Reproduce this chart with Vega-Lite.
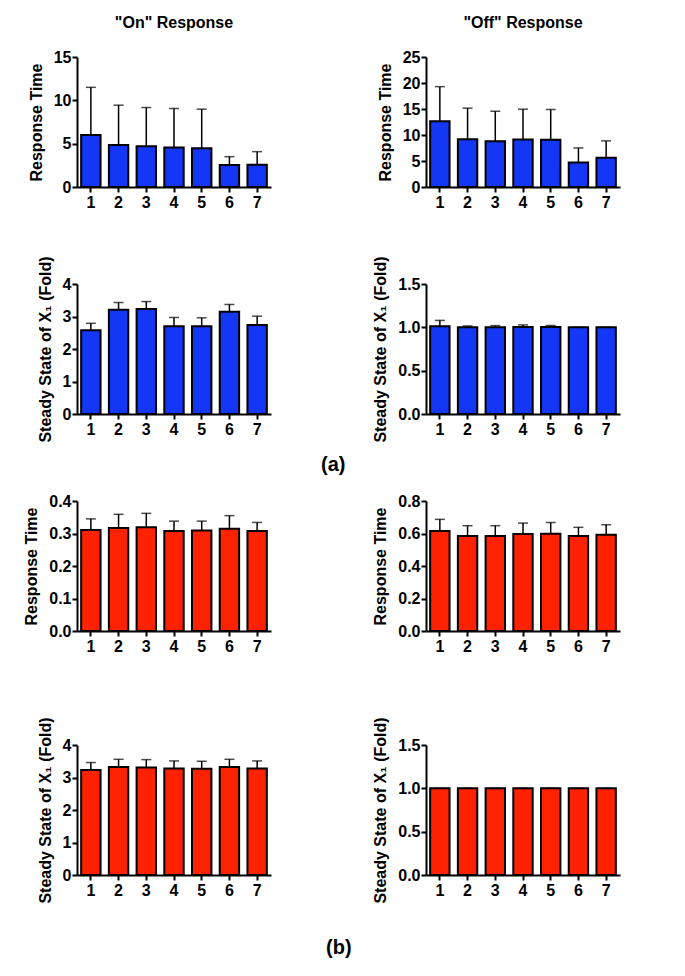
{
  "$schema": "https://vega.github.io/schema/vega-lite/v6.json",
  "background": "white",
  "padding": {"left": 23, "top": 15, "right": 65, "bottom": 21},
  "config": {
    "font": "Liberation Sans",
    "view": {"stroke": null},
    "axis": {"domainColor": "black", "domainWidth": 2, "tickColor": "black", "tickWidth": 2, "tickSize": 5, "labelFont": "Liberation Sans", "labelFontSize": 16, "labelFontWeight": "bold", "labelColor": "black", "titleFont": "Liberation Sans", "titleFontSize": 16, "titleFontWeight": "bold", "titleColor": "black", "grid": false},
    "axisX": {"labelAngle": 0, "labelPadding": 2},
    "axisY": {"minExtent": 0, "labelPadding": 1, "titlePadding": 9, "labelOverlap": false},
    "title": {"font": "Liberation Sans", "fontSize": 16, "fontWeight": "bold", "color": "black"}
  },
  "datasets": {
    "p1": [{"x": 1, "mean": 6.0, "upper": 11.5}, {"x": 2, "mean": 4.86, "upper": 9.44}, {"x": 3, "mean": 4.7, "upper": 9.17}, {"x": 4, "mean": 4.55, "upper": 9.06}, {"x": 5, "mean": 4.47, "upper": 8.98}, {"x": 6, "mean": 2.53, "upper": 3.5}, {"x": 7, "mean": 2.57, "upper": 4.08}],
    "p2": [{"x": 1, "mean": 12.63, "upper": 19.3}, {"x": 2, "mean": 9.2, "upper": 15.16}, {"x": 3, "mean": 8.8, "upper": 14.57}, {"x": 4, "mean": 9.13, "upper": 14.96}, {"x": 5, "mean": 9.07, "upper": 14.9}, {"x": 6, "mean": 4.73, "upper": 7.51}, {"x": 7, "mean": 5.63, "upper": 8.87}],
    "p3": [{"x": 1, "mean": 2.58, "upper": 2.79}, {"x": 2, "mean": 3.21, "upper": 3.43}, {"x": 3, "mean": 3.23, "upper": 3.46}, {"x": 4, "mean": 2.7, "upper": 2.97}, {"x": 5, "mean": 2.7, "upper": 2.96}, {"x": 6, "mean": 3.15, "upper": 3.37}, {"x": 7, "mean": 2.74, "upper": 3.01}],
    "p4": [{"x": 1, "mean": 1.013, "upper": 1.08}, {"x": 2, "mean": 1.0, "upper": 1.016}, {"x": 3, "mean": 1.0, "upper": 1.02}, {"x": 4, "mean": 1.005, "upper": 1.028}, {"x": 5, "mean": 1.005, "upper": 1.02}, {"x": 6, "mean": 1.0, "upper": 1.0}, {"x": 7, "mean": 1.0, "upper": 1.0}],
    "p5": [{"x": 1, "mean": 0.311, "upper": 0.345}, {"x": 2, "mean": 0.317, "upper": 0.359}, {"x": 3, "mean": 0.319, "upper": 0.362}, {"x": 4, "mean": 0.308, "upper": 0.338}, {"x": 5, "mean": 0.309, "upper": 0.338}, {"x": 6, "mean": 0.315, "upper": 0.355}, {"x": 7, "mean": 0.308, "upper": 0.334}],
    "p6": [{"x": 1, "mean": 0.615, "upper": 0.687}, {"x": 2, "mean": 0.585, "upper": 0.648}, {"x": 3, "mean": 0.585, "upper": 0.648}, {"x": 4, "mean": 0.597, "upper": 0.664}, {"x": 5, "mean": 0.599, "upper": 0.667}, {"x": 6, "mean": 0.585, "upper": 0.638}, {"x": 7, "mean": 0.593, "upper": 0.654}],
    "p7": [{"x": 1, "mean": 3.23, "upper": 3.46}, {"x": 2, "mean": 3.32, "upper": 3.56}, {"x": 3, "mean": 3.31, "upper": 3.55}, {"x": 4, "mean": 3.28, "upper": 3.51}, {"x": 5, "mean": 3.27, "upper": 3.5}, {"x": 6, "mean": 3.32, "upper": 3.56}, {"x": 7, "mean": 3.28, "upper": 3.51}],
    "p8": [{"x": 1, "mean": 1.0, "upper": 1.0}, {"x": 2, "mean": 1.0, "upper": 1.0}, {"x": 3, "mean": 1.0, "upper": 1.0}, {"x": 4, "mean": 1.0, "upper": 1.0}, {"x": 5, "mean": 1.0, "upper": 1.0}, {"x": 6, "mean": 1.0, "upper": 1.0}, {"x": 7, "mean": 1.0, "upper": 1.0}]
  },
  "columns": 2,
  "spacing": {"row": 12, "column": 26},
  "align": {"row": "each", "column": "each"},
  "title": {"text": "(b)", "orient": "bottom", "fontSize": 20, "offset": 35, "anchor": "middle", "dx": 17},
  "concat": [
    {
      "width": 194, "height": 130,
      "title": {"text": "\"On\" Response", "offset": 18},
      "data": {"name": "p1"},
      "encoding": {"x": {"field": "x", "type": "ordinal", "title": null, "scale": {"paddingInner": 0.3, "paddingOuter": 0.15}, "axis": {"minExtent": 56}}},
      "layer": [
        {"mark": {"type": "bar", "fill": "#1437f5", "stroke": "black", "strokeWidth": 2}, "encoding": {"y": {"field": "mean", "type": "quantitative", "title": "Response Time", "scale": {"domain": [0, 15], "nice": false}, "axis": {"values": [0, 5, 10, 15]}}}},
        {"mark": {"type": "rule", "color": "black", "strokeWidth": 1.5}, "encoding": {"y": {"field": "mean", "type": "quantitative", "title": "Response Time", "scale": {"domain": [0, 15], "nice": false}, "axis": {"values": [0, 5, 10, 15]}}, "y2": {"field": "upper"}}},
        {"mark": {"type": "tick", "color": "black", "thickness": 1.5, "size": 10}, "encoding": {"y": {"field": "upper", "type": "quantitative", "title": "Response Time", "scale": {"domain": [0, 15], "nice": false}, "axis": {"values": [0, 5, 10, 15]}}}}
      ]
    },
    {
      "width": 194, "height": 130,
      "title": {"text": "\"Off\" Response", "offset": 18},
      "data": {"name": "p2"},
      "encoding": {"x": {"field": "x", "type": "ordinal", "title": null, "scale": {"paddingInner": 0.3, "paddingOuter": 0.15}, "axis": {"minExtent": 56}}},
      "layer": [
        {"mark": {"type": "bar", "fill": "#1437f5", "stroke": "black", "strokeWidth": 2}, "encoding": {"y": {"field": "mean", "type": "quantitative", "title": "Response Time", "scale": {"domain": [0, 25], "nice": false}, "axis": {"values": [0, 5, 10, 15, 20, 25]}}}},
        {"mark": {"type": "rule", "color": "black", "strokeWidth": 1.5}, "encoding": {"y": {"field": "mean", "type": "quantitative", "title": "Response Time", "scale": {"domain": [0, 25], "nice": false}, "axis": {"values": [0, 5, 10, 15, 20, 25]}}, "y2": {"field": "upper"}}},
        {"mark": {"type": "tick", "color": "black", "thickness": 1.5, "size": 10}, "encoding": {"y": {"field": "upper", "type": "quantitative", "title": "Response Time", "scale": {"domain": [0, 25], "nice": false}, "axis": {"values": [0, 5, 10, 15, 20, 25]}}}}
      ]
    },
    {
      "width": 194, "height": 130,
      "data": {"name": "p3"},
      "encoding": {"x": {"field": "x", "type": "ordinal", "title": null, "scale": {"paddingInner": 0.3, "paddingOuter": 0.15}}},
      "layer": [
        {"mark": {"type": "bar", "fill": "#1437f5", "stroke": "black", "strokeWidth": 2}, "encoding": {"y": {"field": "mean", "type": "quantitative", "title": "Steady State of X₁ (Fold)", "scale": {"domain": [0, 4], "nice": false}, "axis": {"values": [0, 1, 2, 3, 4]}}}},
        {"mark": {"type": "rule", "color": "black", "strokeWidth": 1.5}, "encoding": {"y": {"field": "mean", "type": "quantitative", "title": "Steady State of X₁ (Fold)", "scale": {"domain": [0, 4], "nice": false}, "axis": {"values": [0, 1, 2, 3, 4]}}, "y2": {"field": "upper"}}},
        {"mark": {"type": "tick", "color": "black", "thickness": 1.5, "size": 10}, "encoding": {"y": {"field": "upper", "type": "quantitative", "title": "Steady State of X₁ (Fold)", "scale": {"domain": [0, 4], "nice": false}, "axis": {"values": [0, 1, 2, 3, 4]}}}}
      ]
    },
    {
      "width": 194, "height": 130,
      "data": {"name": "p4"},
      "encoding": {"x": {"field": "x", "type": "ordinal", "title": null, "scale": {"paddingInner": 0.3, "paddingOuter": 0.15}}},
      "layer": [
        {"mark": {"type": "bar", "fill": "#1437f5", "stroke": "black", "strokeWidth": 2}, "encoding": {"y": {"field": "mean", "type": "quantitative", "title": "Steady State of X₁ (Fold)", "scale": {"domain": [0, 1.5], "nice": false}, "axis": {"values": [0, 0.5, 1, 1.5], "format": ".1f"}}}},
        {"mark": {"type": "rule", "color": "black", "strokeWidth": 1.5}, "encoding": {"y": {"field": "mean", "type": "quantitative", "title": "Steady State of X₁ (Fold)", "scale": {"domain": [0, 1.5], "nice": false}, "axis": {"values": [0, 0.5, 1, 1.5], "format": ".1f"}}, "y2": {"field": "upper"}}},
        {"mark": {"type": "tick", "color": "black", "thickness": 1.5, "size": 10}, "encoding": {"y": {"field": "upper", "type": "quantitative", "title": "Steady State of X₁ (Fold)", "scale": {"domain": [0, 1.5], "nice": false}, "axis": {"values": [0, 0.5, 1, 1.5], "format": ".1f"}}}}
      ]
    },
    {
      "width": 194, "height": 130,
      "title": {"text": "(a)", "fontSize": 20, "anchor": "start", "frame": "group", "dx": 244, "offset": 18},
      "data": {"name": "p5"},
      "encoding": {"x": {"field": "x", "type": "ordinal", "title": null, "scale": {"paddingInner": 0.3, "paddingOuter": 0.15}, "axis": {"minExtent": 73}}},
      "layer": [
        {"mark": {"type": "bar", "fill": "#ff2200", "stroke": "black", "strokeWidth": 2}, "encoding": {"y": {"field": "mean", "type": "quantitative", "title": "Response Time", "scale": {"domain": [0, 0.4], "nice": false}, "axis": {"values": [0, 0.1, 0.2, 0.3, 0.4], "format": ".1f"}}}},
        {"mark": {"type": "rule", "color": "black", "strokeWidth": 1.5}, "encoding": {"y": {"field": "mean", "type": "quantitative", "title": "Response Time", "scale": {"domain": [0, 0.4], "nice": false}, "axis": {"values": [0, 0.1, 0.2, 0.3, 0.4], "format": ".1f"}}, "y2": {"field": "upper"}}},
        {"mark": {"type": "tick", "color": "black", "thickness": 1.5, "size": 10}, "encoding": {"y": {"field": "upper", "type": "quantitative", "title": "Response Time", "scale": {"domain": [0, 0.4], "nice": false}, "axis": {"values": [0, 0.1, 0.2, 0.3, 0.4], "format": ".1f"}}}}
      ]
    },
    {
      "width": 194, "height": 130,
      "data": {"name": "p6"},
      "encoding": {"x": {"field": "x", "type": "ordinal", "title": null, "scale": {"paddingInner": 0.3, "paddingOuter": 0.15}, "axis": {"minExtent": 73}}},
      "layer": [
        {"mark": {"type": "bar", "fill": "#ff2200", "stroke": "black", "strokeWidth": 2}, "encoding": {"y": {"field": "mean", "type": "quantitative", "title": "Response Time", "scale": {"domain": [0, 0.8], "nice": false}, "axis": {"values": [0, 0.2, 0.4, 0.6, 0.8], "format": ".1f"}}}},
        {"mark": {"type": "rule", "color": "black", "strokeWidth": 1.5}, "encoding": {"y": {"field": "mean", "type": "quantitative", "title": "Response Time", "scale": {"domain": [0, 0.8], "nice": false}, "axis": {"values": [0, 0.2, 0.4, 0.6, 0.8], "format": ".1f"}}, "y2": {"field": "upper"}}},
        {"mark": {"type": "tick", "color": "black", "thickness": 1.5, "size": 10}, "encoding": {"y": {"field": "upper", "type": "quantitative", "title": "Response Time", "scale": {"domain": [0, 0.8], "nice": false}, "axis": {"values": [0, 0.2, 0.4, 0.6, 0.8], "format": ".1f"}}}}
      ]
    },
    {
      "width": 194, "height": 130,
      "data": {"name": "p7"},
      "encoding": {"x": {"field": "x", "type": "ordinal", "title": null, "scale": {"paddingInner": 0.3, "paddingOuter": 0.15}}},
      "layer": [
        {"mark": {"type": "bar", "fill": "#ff2200", "stroke": "black", "strokeWidth": 2}, "encoding": {"y": {"field": "mean", "type": "quantitative", "title": "Steady State of X₁ (Fold)", "scale": {"domain": [0, 4], "nice": false}, "axis": {"values": [0, 1, 2, 3, 4]}}}},
        {"mark": {"type": "rule", "color": "black", "strokeWidth": 1.5}, "encoding": {"y": {"field": "mean", "type": "quantitative", "title": "Steady State of X₁ (Fold)", "scale": {"domain": [0, 4], "nice": false}, "axis": {"values": [0, 1, 2, 3, 4]}}, "y2": {"field": "upper"}}},
        {"mark": {"type": "tick", "color": "black", "thickness": 1.5, "size": 10}, "encoding": {"y": {"field": "upper", "type": "quantitative", "title": "Steady State of X₁ (Fold)", "scale": {"domain": [0, 4], "nice": false}, "axis": {"values": [0, 1, 2, 3, 4]}}}}
      ]
    },
    {
      "width": 194, "height": 130,
      "data": {"name": "p8"},
      "encoding": {"x": {"field": "x", "type": "ordinal", "title": null, "scale": {"paddingInner": 0.3, "paddingOuter": 0.15}}},
      "layer": [
        {"mark": {"type": "bar", "fill": "#ff2200", "stroke": "black", "strokeWidth": 2}, "encoding": {"y": {"field": "mean", "type": "quantitative", "title": "Steady State of X₁ (Fold)", "scale": {"domain": [0, 1.5], "nice": false}, "axis": {"values": [0, 0.5, 1, 1.5], "format": ".1f"}}}},
        {"mark": {"type": "rule", "color": "black", "strokeWidth": 1.5}, "encoding": {"y": {"field": "mean", "type": "quantitative", "title": "Steady State of X₁ (Fold)", "scale": {"domain": [0, 1.5], "nice": false}, "axis": {"values": [0, 0.5, 1, 1.5], "format": ".1f"}}, "y2": {"field": "upper"}}},
        {"mark": {"type": "tick", "color": "black", "thickness": 1.5, "size": 10}, "encoding": {"y": {"field": "upper", "type": "quantitative", "title": "Steady State of X₁ (Fold)", "scale": {"domain": [0, 1.5], "nice": false}, "axis": {"values": [0, 0.5, 1, 1.5], "format": ".1f"}}}}
      ]
    }
  ]
}
